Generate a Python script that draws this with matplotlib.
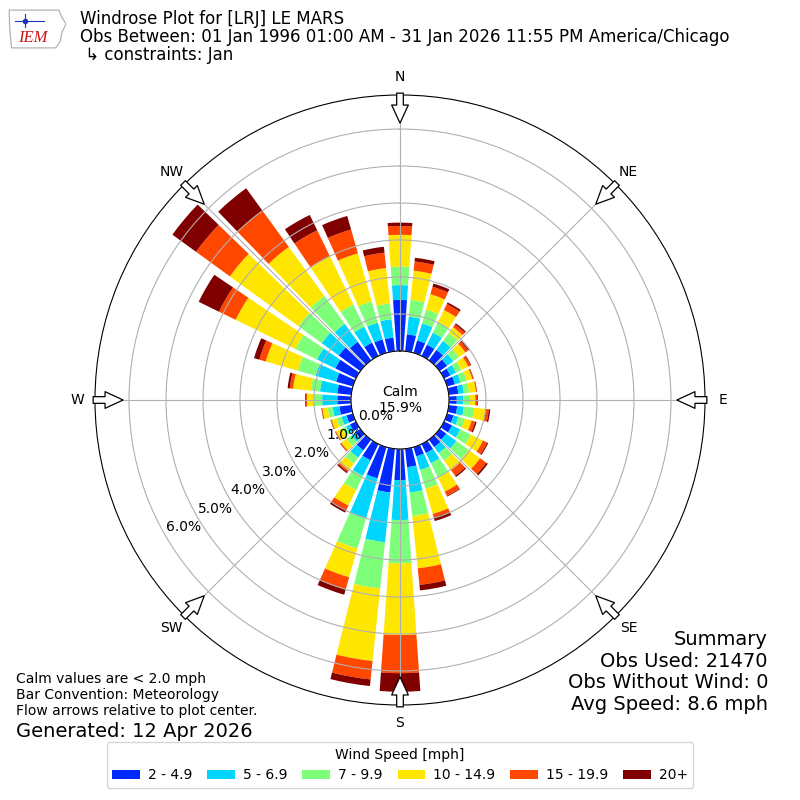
import numpy as np
import matplotlib
matplotlib.use("Agg")
import matplotlib.pyplot as plt
from matplotlib.patches import FancyArrowPatch, Polygon
from matplotlib.transforms import offset_copy

# 10 degree direction bins, percent of observations in each speed bin
directions = np.arange(0, 360, 10)
speed_labels = ["2 - 4.9", "5 - 6.9", "7 - 9.9", "10 - 14.9", "15 - 19.9", "20+"]

pct_2_5 = [1.38, 0.46, 0.35, 0.34, 0.35, 0.25, 0.19, 0.22, 0.26, 0.21, 0.23, 0.18,
           0.24, 0.22, 0.25, 0.27, 0.26, 0.50, 0.84, 1.19, 0.88, 0.49, 0.36, 0.16,
           0.18, 0.18, 0.32, 0.37, 0.38, 0.47, 0.62, 0.72, 0.62, 0.40, 0.38, 0.37]
pct_5_7 = [0.40, 0.48, 0.48, 0.36, 0.30, 0.21, 0.17, 0.16, 0.15, 0.18, 0.18, 0.14,
           0.25, 0.34, 0.20, 0.31, 0.38, 0.69, 1.08, 1.35, 1.12, 0.47, 0.24, 0.14,
           0.12, 0.14, 0.18, 0.41, 0.47, 0.58, 0.55, 0.57, 0.60, 0.48, 0.47, 0.50]
pct_7_10 = [0.50, 0.46, 0.39, 0.32, 0.27, 0.19, 0.16, 0.17, 0.14, 0.18, 0.28, 0.18,
            0.32, 0.41, 0.25, 0.43, 0.53, 0.64, 1.17, 1.26, 0.85, 0.42, 0.20, 0.16,
            0.12, 0.14, 0.14, 0.22, 0.25, 0.50, 0.65, 0.78, 0.93, 0.67, 0.60, 0.43]
pct_10_15 = [0.86, 0.79, 0.43, 0.36, 0.19, 0.21, 0.21, 0.16, 0.19, 0.14, 0.32, 0.19,
             0.36, 0.38, 0.32, 0.42, 0.71, 1.42, 1.94, 1.97, 0.81, 0.47, 0.23, 0.18,
             0.18, 0.14, 0.14, 0.19, 0.48, 0.90, 1.80, 2.29, 1.64, 1.45, 1.35, 0.96]
pct_15_20 = [0.24, 0.25, 0.21, 0.18, 0.09, 0.09, 0.07, 0.03, 0.02, 0.05, 0.08, 0.10,
             0.13, 0.21, 0.19, 0.13, 0.10, 0.45, 1.03, 0.50, 0.34, 0.13, 0.05, 0.03,
             0.02, 0.02, 0.02, 0.03, 0.09, 0.18, 0.50, 1.13, 1.21, 0.78, 0.67, 0.42]
pct_20_up = [0.09, 0.10, 0.09, 0.05, 0.04, 0.03, 0.02, 0.01, 0.01, 0.02, 0.04, 0.04,
             0.03, 0.05, 0.04, 0.02, 0.10, 0.15, 0.50, 0.18, 0.15, 0.08, 0.04, 0.01,
             0.01, 0.01, 0.01, 0.02, 0.06, 0.15, 0.61, 0.79, 0.75, 0.46, 0.38, 0.16]

calm_pct = 15.9
obs_used = 21470
obs_no_wind = 0
avg_speed = 8.6
rings = [0, 1, 2, 3, 4, 5, 6]
compass = ["N", "NE", "E", "SE", "S", "SW", "W", "NW"]

fig = plt.figure(figsize=(8, 8), dpi=100)
ax = fig.add_axes([0.11875, 0.11875, 0.7625, 0.7625], projection="polar")
ax.set_theta_zero_location("N")
ax.set_theta_direction(-1)

theta = np.deg2rad(directions)
colors = plt.cm.jet(np.arange(1, 7) / 6.0)
bottom = np.zeros(len(directions))
handles = []
for vals, color in zip([pct_2_5, pct_5_7, pct_7_10, pct_10_15, pct_15_20, pct_20_up], colors):
    b = ax.bar(theta, vals, width=np.deg2rad(8), bottom=bottom, color=color,
               linewidth=0, align="center")
    handles.append(b)
    bottom += np.array(vals)

ax.set_ylim(0, 6.92)
ax.set_rorigin(-1.325)
ax.set_yticks(rings)
ax.set_yticklabels([])
ax.set_xticks(np.deg2rad(np.arange(0, 360, 45)))
ax.set_xticklabels(compass, fontsize=10)
ax.tick_params(axis="x", pad=2.5)
ax.grid(True, color="#b0b0b0", linewidth=0.8)

# ring labels along the 240 degree ray
lbl_tr = offset_copy(ax.transData, fig=fig, x=13, y=6, units="points")
for r in rings:
    ax.text(np.deg2rad(240), r, f"{r:.1f}%", transform=lbl_tr,
            ha="center", va="center", fontsize=10)

ax.text(0.5, 0.5, f"Calm\n{calm_pct:.1f}%", transform=ax.transAxes,
        ha="center", va="center", fontsize=10)

# hollow flow arrows at the compass points
for ang in range(0, 360, 45):
    t = np.deg2rad(ang)
    arr = FancyArrowPatch((t, 6.97), (t, 6.16), transform=ax.transData,
                          arrowstyle="simple,head_length=1.3,head_width=1.2,tail_width=0.48",
                          mutation_scale=10, facecolor="white", edgecolor="black",
                          linewidth=0.9, shrinkA=0, shrinkB=0, clip_on=False, zorder=5)
    ax.add_patch(arr)

# header text
fig.text(0.1, 0.987,
         "Windrose Plot for [LRJ] LE MARS\n"
         "Obs Between: 01 Jan 1996 01:00 AM - 31 Jan 2026 11:55 PM America/Chicago\n"
         " \u21b3 constraints: Jan",
         ha="left", va="top", fontsize=12, linespacing=0.98)

fig.text(0.96, 0.212,
         f"Summary\nObs Used: {obs_used}\nObs Without Wind: {obs_no_wind}\n"
         f"Avg Speed: {avg_speed} mph",
         ha="right", va="top", fontsize=14, multialignment="right", linespacing=1.17)

fig.text(0.02, 0.16,
         "Calm values are < 2.0 mph\nBar Convention: Meteorology\n"
         "Flow arrows relative to plot center.",
         ha="left", va="top", fontsize=10)
fig.text(0.02, 0.0855, "Generated: 12 Apr 2026", ha="left", va="center", fontsize=14)

fig.legend(handles, speed_labels, loc="lower center", bbox_to_anchor=(0.5, 0.015),
           borderaxespad=0, ncol=6, title="Wind Speed [mph]", fontsize=10,
           title_fontsize=10, columnspacing=1.1, handletextpad=0.55)

# rough IEM logo
lax = fig.add_axes([8 / 800, 1 - 50 / 800, 58 / 800, 42 / 800])
lax.axis("off")
lax.set_xlim(0, 1)
lax.set_ylim(0, 1)
lax.add_patch(Polygon([(0.02, 0.95), (0.88, 0.95), (0.92, 0.8), (1.0, 0.62), (0.93, 0.42),
                       (0.9, 0.2), (0.82, 0.05), (0.06, 0.05), (0.03, 0.5)],
                      closed=True, fill=False, edgecolor="#aaaaaa", linewidth=0.8))
lax.plot([0.12, 0.62], [0.68, 0.68], color="#2233bb", linewidth=0.8)
lax.plot([0.3, 0.3], [0.55, 0.85], color="#2233bb", linewidth=0.8)
lax.plot([0.3], [0.68], marker="o", color="#2233bb", markersize=3)
lax.text(0.42, 0.28, "IEM", color="#cc1111", fontsize=12, fontstyle="italic",
         family="Liberation Serif", ha="center", va="center")

fig.savefig("out.png", dpi=100)
